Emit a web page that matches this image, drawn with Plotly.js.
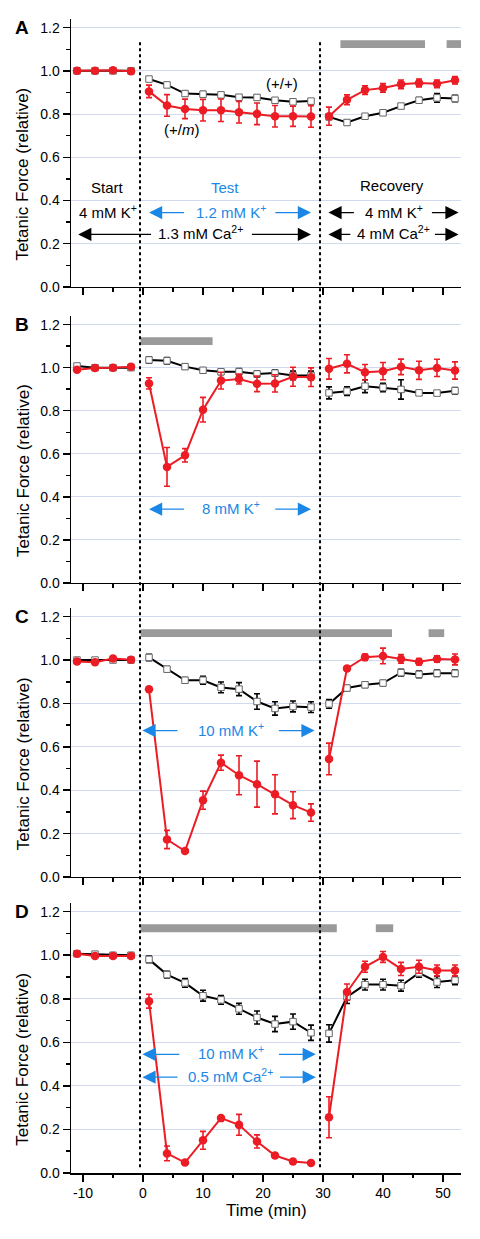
<!DOCTYPE html>
<html>
<head>
<meta charset="utf-8">
<script src="https://cdn.plot.ly/plotly-3.0.1.min.js"></script>
<style>html,body{margin:0;padding:0;background:#fff;}#chart{width:480px;height:1239px;}</style>
</head>
<body>
<div id="chart"></div>
<script>
// ---- data ----
const time = [-11,-8,-5,-2, 1,4,7,10,13,16,19,22,25,28, 31,34,37,40,43,46,49,52];

const A_mut     = [1.0,1.0,1.003,0.998, 0.905,0.84,0.824,0.818,0.818,0.809,0.801,0.79,0.79,0.789, 0.79,0.866,0.911,0.921,0.938,0.944,0.94,0.957];
const A_mut_err = [0.008,0.008,0.008,0.008, 0.029,0.05,0.045,0.05,0.052,0.05,0.05,0.05,0.047,0.05, 0.042,0.023,0.02,0.02,0.02,0.018,0.018,0.017];
const A_wt      = [1.0,1.0,1.0,1.0, 0.962,0.935,0.895,0.892,0.889,0.878,0.877,0.864,0.857,0.86, 0.787,0.761,0.79,0.806,0.837,0.864,0.875,0.872];
const A_wt_err  = [0.005,0.005,0.005,0.005, 0.01,0.01,0.012,0.012,0.01,0.01,0.01,0.01,0.01,0.01, 0.012,0.01,0.01,0.01,0.01,0.012,0.02,0.015];

const B_mut     = [0.99,0.999,1.0,1.005, 0.927,0.539,0.593,0.805,0.94,0.947,0.925,0.927,0.958,0.956, 0.995,1.018,0.979,0.984,1.004,0.988,0.999,0.987];
const B_mut_err = [0.01,0.008,0.008,0.008, 0.026,0.09,0.031,0.057,0.039,0.023,0.036,0.04,0.044,0.043, 0.048,0.042,0.036,0.04,0.036,0.042,0.04,0.04];
const B_wt      = [1.008,1.0,1.0,1.0, 1.036,1.032,1.005,0.988,0.981,0.981,0.971,0.975,0.964,0.964, 0.883,0.891,0.914,0.908,0.899,0.883,0.882,0.893];
const B_wt_err  = [0.01,0.008,0.008,0.008, 0.015,0.015,0.012,0.012,0.012,0.015,0.015,0.015,0.02,0.02, 0.028,0.02,0.03,0.02,0.045,0.01,0.01,0.015];

const C_mut     = [0.993,0.99,1.007,1.001, 0.865,0.173,0.12,0.354,0.527,0.469,0.428,0.381,0.331,0.297, 0.544,0.961,1.013,1.019,1.005,0.992,1.005,1.003];
const C_mut_err = [0.01,0.01,0.01,0.01, 0.01,0.042,0.01,0.042,0.035,0.09,0.106,0.09,0.062,0.04, 0.073,0.01,0.015,0.036,0.02,0.015,0.015,0.025];
const C_wt      = [1.0,1.0,1.0,1.0, 1.012,0.958,0.907,0.907,0.874,0.866,0.809,0.777,0.786,0.783, 0.798,0.871,0.886,0.894,0.942,0.934,0.939,0.939];
const C_wt_err  = [0.008,0.008,0.008,0.008, 0.015,0.012,0.012,0.018,0.025,0.03,0.036,0.031,0.025,0.025, 0.02,0.012,0.012,0.012,0.015,0.015,0.015,0.015];

const D_mut     = [1.007,0.996,0.996,0.996, 0.789,0.09,0.048,0.15,0.252,0.221,0.145,0.08,0.053,0.046, 0.256,0.831,0.947,0.992,0.937,0.947,0.93,0.93];
const D_mut_err = [0.01,0.01,0.01,0.01, 0.032,0.034,0.01,0.041,0.01,0.048,0.03,0.01,0.01,0.01, 0.094,0.037,0.025,0.025,0.03,0.03,0.025,0.025];
const D_wt      = [1.007,1.005,1.0,1.0, 0.981,0.911,0.873,0.814,0.795,0.754,0.714,0.684,0.695,0.644, 0.641,0.808,0.865,0.865,0.86,0.919,0.877,0.885];
const D_wt_err  = [0.01,0.01,0.01,0.01, 0.015,0.015,0.02,0.025,0.02,0.025,0.03,0.035,0.035,0.035, 0.04,0.03,0.025,0.025,0.025,0.02,0.025,0.02];

// significance bars (time intervals)
const sigA = [[32.9,47.0],[50.6,53]];
const sigB = [[-0.4,11.6]];
const sigC = [[-0.4,41.5],[47.6,50.2]];
const sigD = [[-0.4,32.3],[38.8,41.7]];

const periodBounds = [-0.5, 29.5];
const xTickVals = [-10,0,10,20,30,40,50];
const yTickVals = [0.0,0.2,0.4,0.6,0.8,1.0,1.2];

// ---- build ----
const RED = '#ec1c24', BLUE = '#1a87e6';
const FONT = 'Arial, "Liberation Sans", sans-serif';
const breaks = [4, 14]; // split the three phases
function seg(arr){
  const out = [];
  arr.forEach((v,i)=>{ if (breaks.includes(i)) out.push(null); out.push(v); });
  return out;
}

const panels = [
  {L:'A', mut:A_mut, mutE:A_mut_err, wt:A_wt, wtE:A_wt_err, sig:sigA, dom:[0.7678,1.0]},
  {L:'B', mut:B_mut, mutE:B_mut_err, wt:B_wt, wtE:B_wt_err, sig:sigB, dom:[0.5113,0.7426]},
  {L:'C', mut:C_mut, mutE:C_mut_err, wt:C_wt, wtE:C_wt_err, sig:sigC, dom:[0.2565,0.4896]},
  {L:'D', mut:D_mut, mutE:D_mut_err, wt:D_wt, wtE:D_wt_err, sig:sigD, dom:[0.0,0.234]}
];

const traces = [];
const layout = {
  width:480, height:1239,
  margin:{l:71, r:19, t:19, b:66},
  paper_bgcolor:'#fff', plot_bgcolor:'#fff',
  showlegend:false,
  font:{family:FONT, size:14, color:'#000'},
  shapes:[], annotations:[]
};

panels.forEach((p,k)=>{
  const s = k===0 ? '' : String(k+1);
  const xa = 'x'+s, ya = 'y'+s;
  traces.push({
    x:seg(time), y:seg(p.wt), xaxis:xa, yaxis:ya, type:'scatter', mode:'lines+markers',
    line:{color:'#000', width:2},
    marker:{symbol:'square', size:6.5, color:'#fff', line:{color:'#666', width:1}},
    error_y:{type:'data', array:seg(p.wtE), visible:true, color:'#000', thickness:1.6, width:3},
    hoverinfo:'skip'
  });
  traces.push({
    x:seg(time), y:seg(p.mut), xaxis:xa, yaxis:ya, type:'scatter', mode:'lines+markers',
    line:{color:RED, width:2},
    marker:{symbol:'circle', size:8.5, color:RED},
    error_y:{type:'data', array:seg(p.mutE), visible:true, color:RED, thickness:1.6, width:3},
    hoverinfo:'skip'
  });
  layout['xaxis'+s] = {
    domain:[0,1], anchor:ya, range:[-12,53], tickvals:xTickVals, ticktext:xTickVals.map(String),
    ticks:'outside', ticklen:7, tickwidth:1.5, tickcolor:'#000',
    minor:{dtick:5, tick0:0, ticks:'outside', ticklen:3.5, tickwidth:1.5, tickcolor:'#000'},
    showticklabels:k===3, showgrid:false, zeroline:false,
    showline:true, linecolor:'#000', linewidth:1.5,
    tickfont:{family:FONT, size:14, color:'#000'}
  };
  layout['yaxis'+s] = {
    domain:p.dom, anchor:xa, range:[0,1.24], tickvals:yTickVals, ticktext:yTickVals.map(v=>v.toFixed(1)),
    ticks:'outside', ticklen:7, tickwidth:1.5, tickcolor:'#000',
    minor:{dtick:0.1, tick0:0, ticks:'outside', ticklen:3.5, tickwidth:1.5, tickcolor:'#000', showgrid:false},
    showgrid:true, gridcolor:'#d3daf0', gridwidth:1, zeroline:false,
    showline:true, linecolor:'#000', linewidth:1.5,
    tickfont:{family:FONT, size:14, color:'#000'}
  };
  // significance bars
  p.sig.forEach(iv=>{
    layout.shapes.push({type:'rect', xref:xa, yref:ya, x0:iv[0], x1:iv[1], y0:1.106, y1:1.142,
      fillcolor:'#9a9a9a', line:{width:0}, layer:'above'});
  });
  // y title
  layout.annotations.push({text:'Tetanic Force (relative)', xref:'paper', yref:ya, x:-0.123, y:0.52,
    textangle:-90, showarrow:false, xanchor:'center', yanchor:'middle', font:{family:FONT, size:17, color:'#000'}});
  // panel letter
  layout.annotations.push({text:'<b>'+p.L+'</b>', xref:'paper', yref:ya, x:-0.126, y:1.2,
    showarrow:false, xanchor:'center', yanchor:'middle', font:{family:FONT, size:19, color:'#000'}});
});

// dotted period boundaries spanning all panels
periodBounds.forEach(xv=>{
  layout.shapes.push({type:'line', xref:'x4', yref:'paper', x0:xv, x1:xv, y0:0.005, y1:0.98,
    line:{color:'#000', width:2, dash:'dot'}, layer:'above'});
});

// helpers for text and arrows
function txt(ax, text, x, y, color, size){
  const s = ax===1 ? '' : String(ax);
  layout.annotations.push({text:text, xref:'x'+s, yref:'y'+s, x:x, y:y, showarrow:false,
    xanchor:'center', yanchor:'middle', font:{family:FONT, size:size||15, color:color||'#000'}});
}
function arrow(ax, head, tail, y, color){
  const s = ax===1 ? '' : String(ax);
  layout.annotations.push({text:'', xref:'x'+s, yref:'y'+s, axref:'x'+s, ayref:'y'+s,
    x:head, y:y, ax:tail, ay:y, showarrow:true, arrowhead:2, arrowsize:2.2, arrowwidth:1.2,
    arrowcolor:color||'#000', standoff:0, startstandoff:0});
}

// Panel A labels
txt(1,'(+/+)',23.2,0.94);
txt(1,'(+/<i>m</i>)',6.4,0.729);
txt(1,'Start',-6.0,0.458);
txt(1,'Test',13.6,0.458,BLUE);
txt(1,'Recovery',41.5,0.471);
txt(1,'4 mM K<sup>+</sup>',-5.9,0.35);
txt(1,'1.2 mM K<sup>+</sup>',14.6,0.35,BLUE);
arrow(1,1.0,7.1,0.344,BLUE); arrow(1,28.0,21.8,0.344,BLUE);
txt(1,'1.3 mM Ca<sup>2+</sup>',9.6,0.25);
arrow(1,-10.8,1.6,0.243); arrow(1,28.0,17.9,0.243);
txt(1,'4 mM K<sup>+</sup>',41.8,0.35);
arrow(1,30.9,35.4,0.344); arrow(1,52.6,47.9,0.344);
txt(1,'4 mM Ca<sup>2+</sup>',41.8,0.25);
arrow(1,30.9,34.8,0.243); arrow(1,52.6,48.4,0.243);

// Panel B
txt(2,'8 mM K<sup>+</sup>',14.6,0.35,BLUE);
arrow(2,1.0,7.1,0.343,BLUE); arrow(2,28.0,21.8,0.343,BLUE);

// Panel C
txt(3,'10 mM K<sup>+</sup>',14.6,0.682,BLUE);
arrow(3,-0.1,6.0,0.675,BLUE); arrow(3,28.6,22.4,0.675,BLUE);

// Panel D
txt(4,'10 mM K<sup>+</sup>',14.6,0.552,BLUE);
arrow(4,-0.1,6.3,0.545,BLUE); arrow(4,28.8,22.4,0.545,BLUE);
txt(4,'0.5 mM Ca<sup>2+</sup>',14.6,0.447,BLUE);
arrow(4,-0.1,6.0,0.44,BLUE); arrow(4,28.8,22.6,0.44,BLUE);

// x title
layout.annotations.push({text:'Time (min)', xref:'paper', yref:'paper', x:0.5, y:-0.0327,
  showarrow:false, xanchor:'center', yanchor:'middle', font:{family:FONT, size:17, color:'#000'}});

Plotly.newPlot('chart', traces, layout, {staticPlot:true, displayModeBar:false});
</script>
</body>
</html>
